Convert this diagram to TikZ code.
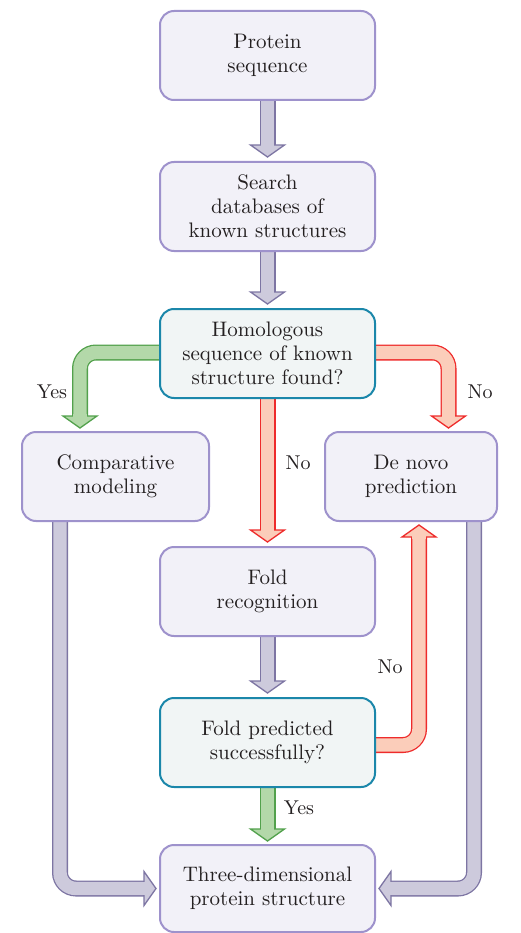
\documentclass[tikz,border=0pt]{standalone}
\usepackage{fontspec}
\setmainfont{lmroman10-regular.otf}
\usetikzlibrary{calc,backgrounds}
\definecolor{boxline}{HTML}{9E92CC}
\definecolor{boxfill}{HTML}{F2F1F8}
\definecolor{qline}{HTML}{1B87AA}
\definecolor{qfill}{HTML}{F1F5F5}
\definecolor{grayfill}{HTML}{CDCADC}
\definecolor{grayline}{HTML}{7D75A3}
\definecolor{greenfill}{HTML}{B3D8A9}
\definecolor{greenline}{HTML}{52A14C}
\definecolor{redfill}{HTML}{FBCDBA}
\definecolor{redline}{HTML}{EE2B2B}
\definecolor{ink}{HTML}{231F20}
\newcommand{\barrow}[5]{%
  \draw[line width=16pt,draw=#1,rounded corners=16pt] #3;
  \draw[line width=13.4pt,draw=#2,rounded corners=16pt] #3;
  \filldraw[draw=#1,fill=#2,line width=1.3pt,line join=miter,shift={#4},rotate=#5] (0,0) -- (-17,-12) -- (17,-12) -- cycle;
  \draw[draw=#2,line width=13.4pt,shift={#4},rotate=#5] (0,-14) -- (0,-8);
}
\tikzset{
  box/.style={rounded corners=14pt,draw=boxline,fill=boxfill,line width=2pt,
    minimum width=215pt,minimum height=89pt,align=center,text=ink,
    font=\fontsize{21}{24}\selectfont,inner sep=2pt},
  qbox/.style={box,draw=qline,fill=qfill},
  lab/.style={text=ink,font=\fontsize{20}{24}\selectfont,inner sep=0pt}
}
\begin{document}
\begin{tikzpicture}[x=1pt,y=-1pt]
\useasboundingbox (0,0) rectangle (520,933);
\node[box] (seq) at (267.5,55.5) {Protein\\sequence};
\node[box] (search) at (267.5,206.5) {Search\\databases of\\known structures};
\node[qbox] (hom) at (267.5,353.5) {Homologous\\sequence of known\\structure found?};
\node[box,minimum width=187pt] (comp) at (115.5,476.5) {Comparative\\modeling};
\node[box,minimum width=172pt] (denovo) at (411,476.5) {De novo\\prediction};
\node[box] (fold) at (267.5,591.5) {Fold\\recognition};
\node[qbox] (pred) at (267.5,742.5) {Fold predicted\\successfully?};
\node[box,minimum height=87pt] (three) at (267.5,888.5) {Three-dimensional\\protein structure};

\coordinate (t1) at ($(search.north)+(0,-4)$);
\coordinate (t2) at ($(hom.north)+(0,-4)$);
\coordinate (tY) at (80,428);
\coordinate (tN1) at (448.5,428);
\coordinate (tN2) at ($(fold.north)+(0,-4)$);
\coordinate (t3) at ($(pred.north)+(0,-4)$);
\coordinate (tY2) at ($(three.north)+(0,-3)$);
\coordinate (tN3) at (419,525);
\coordinate (tL) at ($(three.west)+(-3,0)$);
\coordinate (tR) at ($(three.east)+(3,0)$);

\begin{scope}[on background layer]
\barrow{grayline}{grayfill}{(seq.south) -- ($(t1)+(0,-12)$)}{(t1)}{0}
\barrow{grayline}{grayfill}{(search.south) -- ($(t2)+(0,-12)$)}{(t2)}{0}
\barrow{greenline}{greenfill}{([yshift=1pt]hom.west) -| ($(tY)+(0,-12)$)}{(tY)}{0}
\barrow{redline}{redfill}{([yshift=1pt]hom.east) -| ($(tN1)+(0,-12)$)}{(tN1)}{0}
\barrow{redline}{redfill}{(hom.south) -- ($(tN2)+(0,-12)$)}{(tN2)}{0}
\barrow{grayline}{grayfill}{(fold.south) -- ($(t3)+(0,-12)$)}{(t3)}{0}
\barrow{greenline}{greenfill}{(pred.south) -- ($(tY2)+(0,-12)$)}{(tY2)}{0}
\barrow{redline}{redfill}{([yshift=-2.5pt]pred.east) -| ($(tN3)+(0,12)$)}{(tN3)}{180}
\barrow{grayline}{grayfill}{($(comp.south)+(-55.5,0)$) |- ($(tL)+(-12,0)$)}{(tL)}{90}
\barrow{grayline}{grayfill}{($(denovo.south)+(63,0)$) |- ($(tR)+(12,0)$)}{(tR)}{-90}
\end{scope}

\node[lab] (l1) at (52,392) {Yes};
\node[lab] (l2) at (480,392) {No};
\node[lab] (l3) at (298,463) {No};
\node[lab] (l4) at (390,667) {No};
\node[lab] (l5) at (299,808) {Yes};
\end{tikzpicture}
\end{document}
